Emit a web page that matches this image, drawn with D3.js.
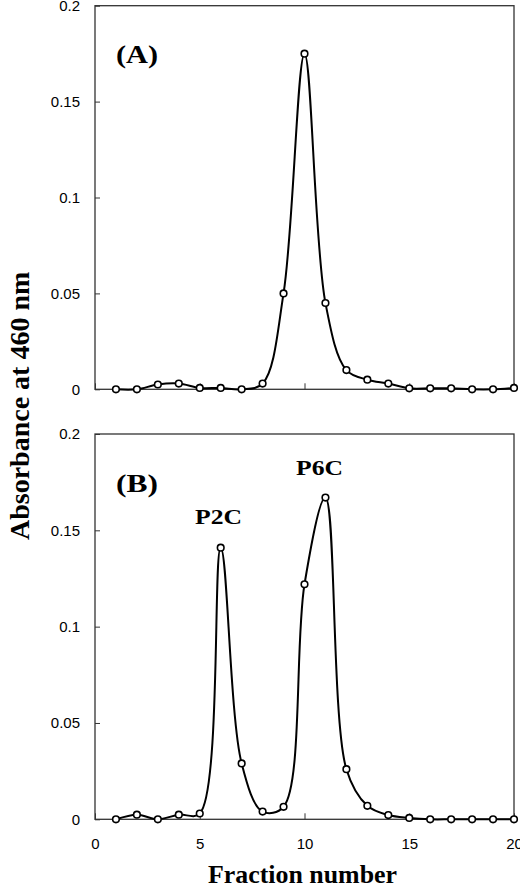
<!DOCTYPE html>
<html>
<head>
<meta charset="utf-8">
<script src="https://cdn.jsdelivr.net/npm/d3@7"></script>
<style>
  html, body { margin: 0; padding: 0; background: #fff; }
  svg { display: block; }
</style>
</head>
<body>
<svg id="chart" width="520" height="888"></svg>
<script>
// ---- data ----
const fractions = [1,2,3,4,5,6,7,8,9,10,11,12,13,14,15,16,17,18,19,20];
const absorbanceA = [0,0,0.0025,0.003,0.0007,0.0007,0,0.003,0.050,0.175,0.045,0.010,0.005,0.003,0.0005,0.0005,0.0005,0,0,0.0007];
const absorbanceB = [0,0.0024,0,0.0024,0.003,0.141,0.029,0.004,0.0065,0.122,0.167,0.026,0.007,0.0022,0.0007,0,0,0,0,0];
const xTickValues = [0,5,10,15,20];
const xTickLabels = ["0","5","10","15","20"];
const yTickValues = [0,0.05,0.1,0.15,0.2];
const yTickLabels = ["0","0.05","0.1","0.15","0.2"];
const panelLabels = ["(A)","(B)"];
const peakLabels = ["P2C","P6C"];
const xTitle = "Fraction number";
const yTitle = "Absorbance at 460 nm";

// ---- layout ----
const svg = d3.select("#chart");
const left = 95, right = 514;
const x = d3.scaleLinear().domain([0,20]).range([left,right]);
const panels = [
  {data: absorbanceA, top: 5.7, bottom: 389.3, showX: false},
  {data: absorbanceB, top: 434, bottom: 819.3, showX: true}
];
const sans = "'Liberation Sans', Arial, Helvetica, sans-serif";
const serif = "'Liberation Serif', 'Times New Roman', Times, serif";

panels.forEach((p, i) => {
  const y = d3.scaleLinear().domain([0,0.2]).range([p.bottom, p.top]);
  const g = svg.append("g");

  // frame
  g.append("rect")
    .attr("x", left).attr("y", p.top)
    .attr("width", right-left).attr("height", p.bottom-p.top)
    .attr("fill", "none").attr("stroke", "#333").attr("stroke-width", 1.3);

  // y axis
  const ya = d3.axisLeft(y).tickValues(yTickValues)
    .tickFormat((d, k) => yTickLabels[k]).tickSize(-5).tickPadding(15);
  const yg = g.append("g").attr("transform", `translate(${left},0)`).call(ya);
  yg.select(".domain").remove();
  yg.selectAll("line").attr("stroke", "#333").attr("stroke-width", 1);
  yg.selectAll("text").attr("font-family", sans).attr("font-size", 15).attr("fill", "#000");

  // x axis
  const xa = d3.axisBottom(x).tickValues(xTickValues)
    .tickFormat((d, k) => p.showX ? xTickLabels[k] : "").tickSize(-6).tickPadding(19);
  const xg = g.append("g").attr("transform", `translate(0,${p.bottom})`).call(xa);
  xg.select(".domain").remove();
  xg.selectAll("line").attr("stroke", "#333").attr("stroke-width", 1);
  xg.selectAll("text").attr("font-family", sans).attr("font-size", 15).attr("fill", "#000");

  // line
  const pts = fractions.map((f, k) => [f, p.data[k]]);
  const line = d3.line().x(d => x(d[0])).y(d => y(d[1])).curve(d3.curveCatmullRom.alpha(0.5));
  g.append("path").datum(pts).attr("d", line)
    .attr("fill", "none").attr("stroke", "#000").attr("stroke-width", 2);

  // markers
  g.selectAll("circle").data(pts).join("circle")
    .attr("cx", d => x(d[0])).attr("cy", d => y(d[1])).attr("r", 3.3)
    .attr("fill", "#fff").attr("stroke", "#000").attr("stroke-width", 1.6);

  // panel label
  g.append("text").attr("x", 116).attr("y", i === 0 ? 63 : 492)
    .attr("font-family", serif).attr("font-weight", "bold").attr("font-size", 26)
    .attr("textLength", 42).attr("lengthAdjust", "spacingAndGlyphs")
    .text(panelLabels[i]);
});

// peak labels in panel B
const peakPos = [{x: 195, y: 524}, {x: 296, y: 475}];
peakLabels.forEach((t, k) => {
  svg.append("text").attr("x", peakPos[k].x).attr("y", peakPos[k].y)
    .attr("font-family", serif).attr("font-weight", "bold").attr("font-size", 20)
    .attr("textLength", 47).attr("lengthAdjust", "spacingAndGlyphs")
    .text(t);
});

// axis titles
svg.append("text").attr("x", 302.5).attr("y", 883)
  .attr("text-anchor", "middle")
  .attr("font-family", serif).attr("font-weight", "bold").attr("font-size", 26)
  .attr("textLength", 189).attr("lengthAdjust", "spacingAndGlyphs")
  .text(xTitle);

svg.append("text")
  .attr("transform", "translate(29,540) rotate(-90)")
  .attr("text-anchor", "start")
  .attr("font-family", serif).attr("font-weight", "bold").attr("font-size", 28)
  .text(yTitle);
</script>
</body>
</html>
